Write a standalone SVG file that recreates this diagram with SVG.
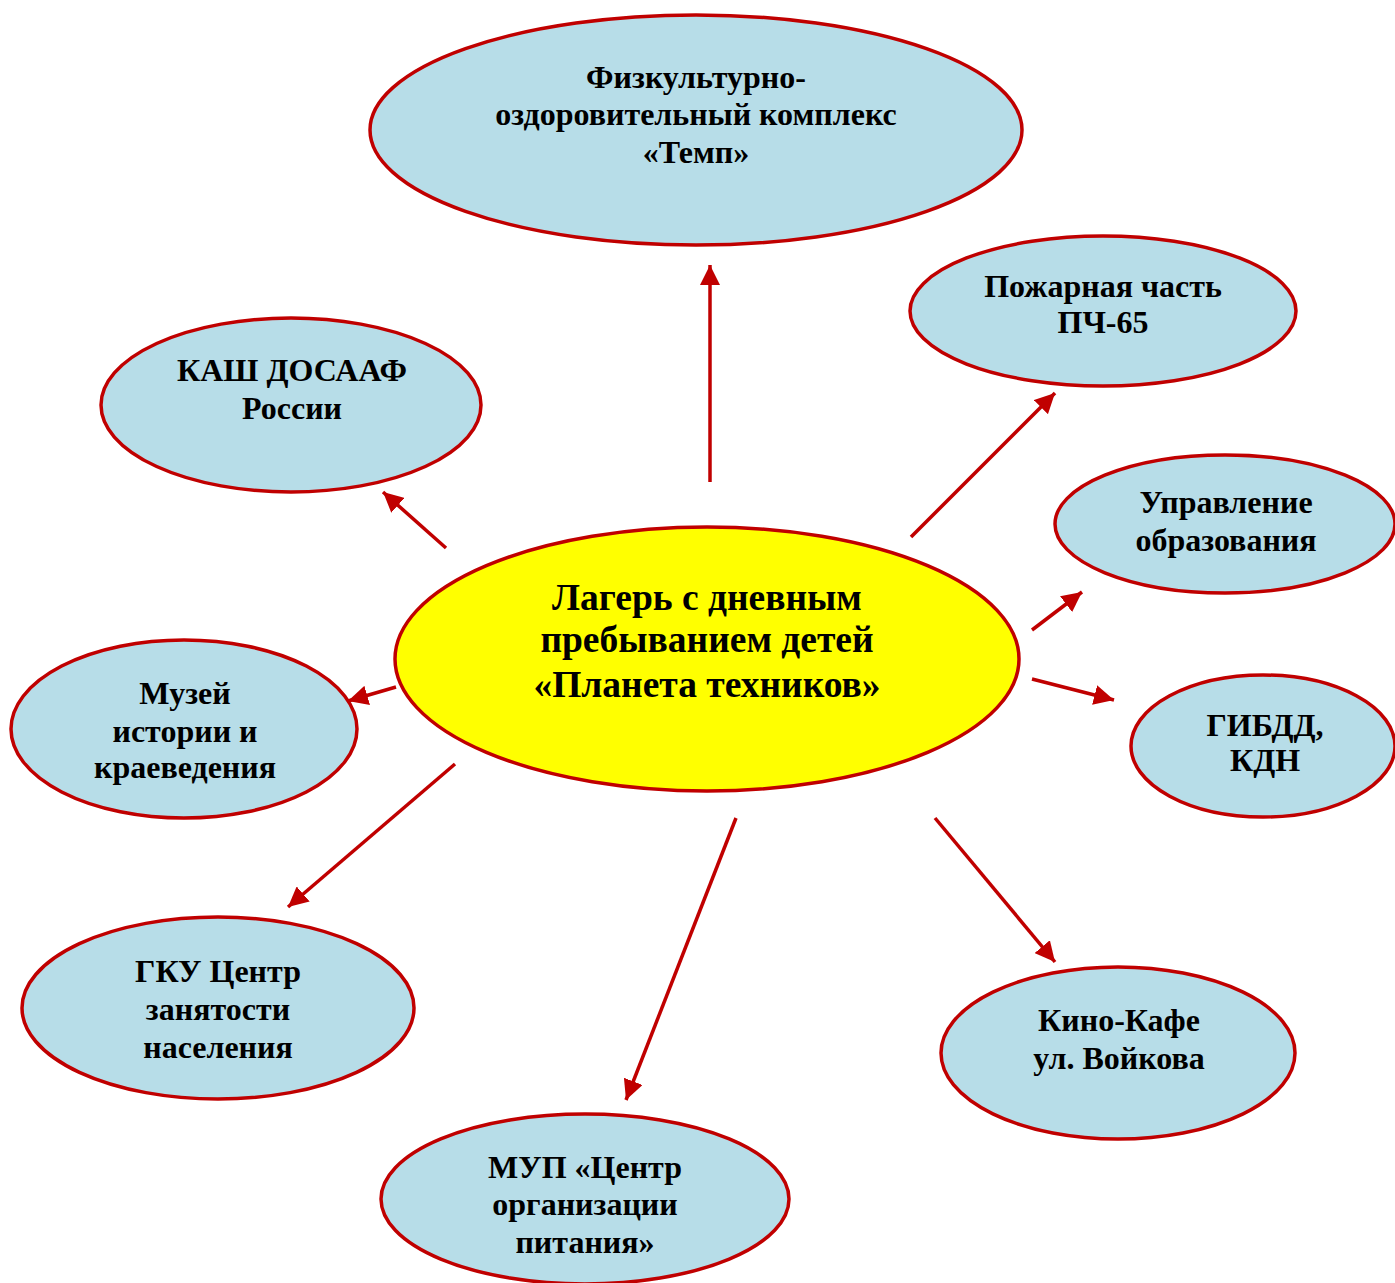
<svg xmlns="http://www.w3.org/2000/svg" width="1395" height="1283" viewBox="0 0 1395 1283">
<style>
.n{fill:#B7DDE8;stroke:#C00000;stroke-width:3.5}
.c{fill:#FFFF00;stroke:#C00000;stroke-width:3.5}
text{font-family:"Liberation Serif","Times New Roman",serif;font-weight:bold;fill:#000;text-anchor:middle}
.t{font-size:32px}
.tc{font-size:37.5px}
#edges line{stroke:#C00000;stroke-width:3.5;marker-end:url(#ah)}
</style>
<defs>
<marker id="ah" markerUnits="userSpaceOnUse" markerWidth="22" markerHeight="20" refX="20" refY="10" orient="auto">
<path d="M0,0 L20,10 L0,20 Z" fill="#C00000"/>
</marker>
</defs>
<rect width="1395" height="1283" fill="#fff"/>
<g id="edges">
<line x1="710" y1="482" x2="710" y2="265"/>
<line x1="911" y1="537" x2="1055" y2="393"/>
<line x1="446" y1="548" x2="383" y2="492"/>
<line x1="1032" y1="630" x2="1082" y2="592"/>
<line x1="1032" y1="679" x2="1114" y2="700"/>
<line x1="396" y1="687" x2="348" y2="701"/>
<line x1="455" y1="764" x2="288" y2="907"/>
<line x1="736" y1="818" x2="626" y2="1100"/>
<line x1="935" y1="818" x2="1055" y2="962"/>
</g>
<g id="temp">
<ellipse class="n" cx="696" cy="130" rx="326" ry="115"/>
<text class="t" x="696" y="88">Физкультурно-</text>
<text class="t" x="696" y="125">оздоровительный комплекс</text>
<text class="t" x="696" y="163">«Темп»</text>
</g>
<g id="pch">
<ellipse class="n" cx="1103" cy="311" rx="193" ry="75"/>
<text class="t" x="1103" y="297">Пожарная часть</text>
<text class="t" x="1103" y="333">ПЧ-65</text>
</g>
<g id="kash">
<ellipse class="n" cx="291" cy="405" rx="190" ry="87"/>
<text class="t" x="292" y="381">КАШ ДОСААФ</text>
<text class="t" x="292" y="419">России</text>
</g>
<g id="upr">
<ellipse class="n" cx="1225" cy="524" rx="170" ry="69"/>
<text class="t" x="1226" y="513">Управление</text>
<text class="t" x="1226" y="551">образования</text>
</g>
<g id="center">
<ellipse class="c" cx="707" cy="659" rx="312" ry="132"/>
<text class="tc" x="707" y="610">Лагерь с дневным</text>
<text class="tc" x="707" y="652">пребыванием детей</text>
<text class="tc" x="707" y="697">«Планета техников»</text>
</g>
<g id="muzey">
<ellipse class="n" cx="184" cy="729" rx="173" ry="89"/>
<text class="t" x="185" y="704">Музей</text>
<text class="t" x="185" y="742">истории и</text>
<text class="t" x="185" y="778">краеведения</text>
</g>
<g id="gibdd">
<ellipse class="n" cx="1263" cy="746" rx="132" ry="71"/>
<text class="t" x="1265" y="736">ГИБДД,</text>
<text class="t" x="1265" y="771">КДН</text>
</g>
<g id="gku">
<ellipse class="n" cx="218" cy="1008" rx="196" ry="91"/>
<text class="t" x="218" y="982">ГКУ Центр</text>
<text class="t" x="218" y="1020">занятости</text>
<text class="t" x="218" y="1058">населения</text>
</g>
<g id="kino">
<ellipse class="n" cx="1118" cy="1053" rx="177" ry="86"/>
<text class="t" x="1119" y="1031">Кино-Кафе</text>
<text class="t" x="1119" y="1069">ул. Войкова</text>
</g>
<g id="mup">
<ellipse class="n" cx="585" cy="1199" rx="204" ry="85"/>
<text class="t" x="585" y="1178">МУП «Центр</text>
<text class="t" x="585" y="1215">организации</text>
<text class="t" x="585" y="1253">питания»</text>
</g>
</svg>
